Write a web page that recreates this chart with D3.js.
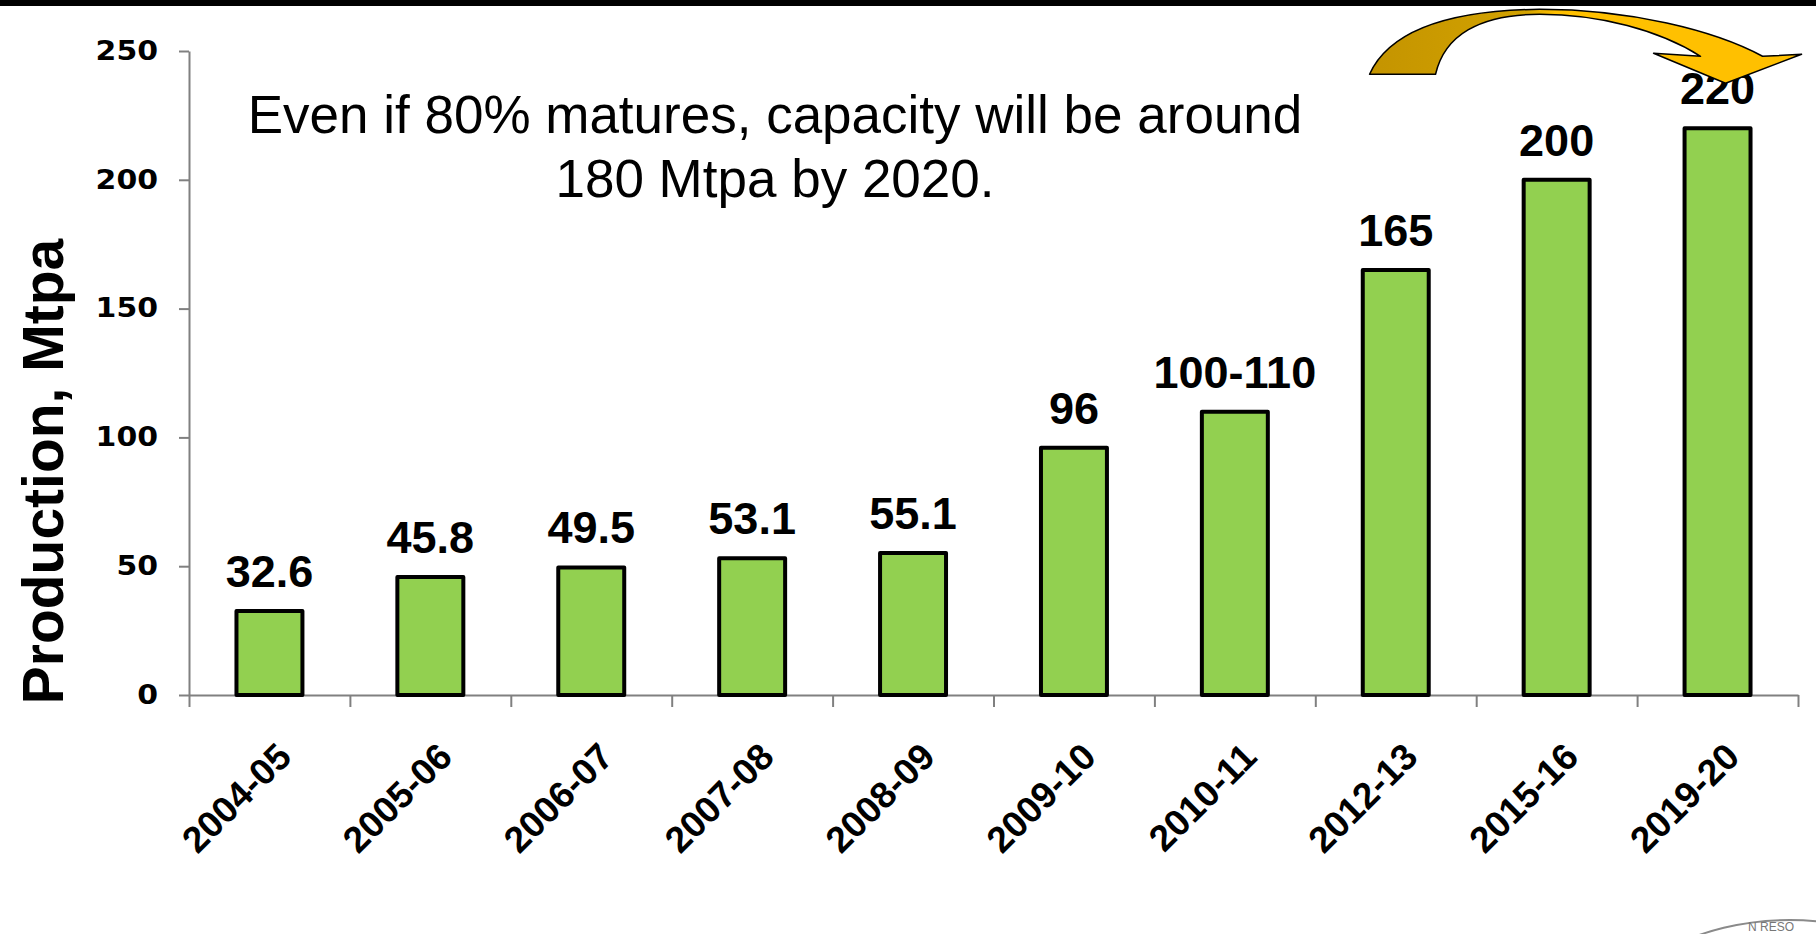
<!DOCTYPE html>
<html>
<head>
<meta charset="utf-8">
<script src="https://cdn.jsdelivr.net/npm/d3@7"></script>
<style>
  body { margin: 0; background: #fff; }
</style>
</head>
<body>
<div id="chart"></div>
<script>
// categories (years) and production values, Mtpa
var categories = ["2004-05", "2005-06", "2006-07", "2007-08", "2008-09",
                  "2009-10", "2010-11", "2012-13", "2015-16", "2019-20"];
var values = [32.6, 45.8, 49.5, 53.1, 55.1, 96, 110, 165, 200, 220];
var valueLabels = ["32.6", "45.8", "49.5", "53.1", "55.1", "96", "100-110", "165", "200", "220"];
var yTicks = [0, 50, 100, 150, 200, 250];
var noteLines = ["Even if 80% matures, capacity will be around", "180 Mtpa by 2020."];
var yTitle = "Production, Mtpa";

var chartInfo = { width: 1816, height: 934, divId: "#chart" };
var margin = { top: 51, right: 18, bottom: 239, left: 189 };

var w = chartInfo.width - margin.left - margin.right;
var h = chartInfo.height - margin.top - margin.bottom;

var svg = d3.select(chartInfo.divId).append("svg")
    .attr("width", chartInfo.width)
    .attr("height", chartInfo.height)
    .style("display", "block");

svg.append("rect")
    .attr("width", chartInfo.width)
    .attr("height", chartInfo.height)
    .attr("fill", "#fff");

var g = svg.append("g")
    .attr("transform", "translate(" + margin.left + "," + margin.top + ")");

// scales
var x = d3.scaleBand()
    .domain(categories)
    .range([0, w])
    .paddingInner(0.59)
    .paddingOuter(0.295);

var xEdges = d3.scaleLinear()
    .domain([0, categories.length])
    .range([0, w]);

var y = d3.scaleLinear()
    .domain([0, 250])
    .range([h, 0]);

var axisColor = "#808080";

// y axis (labels are a wide bold face, so stretch them a little)
var yAxis = g.append("g")
    .call(d3.axisLeft(y).tickValues(yTicks).tickSize(10).tickSizeOuter(0));
yAxis.selectAll("path, line").attr("stroke", axisColor).attr("stroke-width", 2);
yAxis.selectAll("text")
    .attr("x", 0)
    .attr("transform", "translate(-31,0) scale(1.15,1)")
    .attr("fill", "#000")
    .style("font-family", "'DejaVu Sans', sans-serif")
    .style("font-weight", "bold")
    .style("font-size", "26px");

// x axis: ticks between the categories
var xTickAxis = g.append("g")
    .attr("transform", "translate(0," + h + ")")
    .call(d3.axisBottom(xEdges).tickValues(d3.range(categories.length + 1))
        .tickFormat("").tickSize(12).tickSizeOuter(0));
xTickAxis.selectAll("path, line").attr("stroke", axisColor).attr("stroke-width", 2);

// x axis: rotated category labels
var xLabelAxis = g.append("g")
    .attr("transform", "translate(0," + h + ")")
    .call(d3.axisBottom(x).tickSize(0));
xLabelAxis.select(".domain").remove();
xLabelAxis.selectAll("text")
    .attr("x", 0)
    .attr("y", 0)
    .attr("dy", 0)
    .attr("text-anchor", "end")
    .attr("transform", "translate(24,64) rotate(-45)")
    .attr("fill", "#000")
    .style("font-family", "'Liberation Sans', Arial, sans-serif")
    .style("font-weight", "bold")
    .style("font-size", "37px");

// bars
g.selectAll(".bar")
    .data(values)
    .enter().append("rect")
    .attr("class", "bar")
    .attr("x", function(d, i) { return x(categories[i]); })
    .attr("width", x.bandwidth())
    .attr("y", function(d) { return y(d); })
    .attr("height", function(d) { return h - y(d); })
    .attr("fill", "#92D050")
    .attr("stroke", "#000")
    .attr("stroke-width", 4)
    .attr("stroke-linejoin", "round");

// value labels
g.selectAll(".value-label")
    .data(values)
    .enter().append("text")
    .attr("class", "value-label")
    .attr("x", function(d, i) { return x(categories[i]) + x.bandwidth() / 2; })
    .attr("y", function(d) { return y(d) - 24; })
    .attr("text-anchor", "middle")
    .style("font-family", "'Liberation Sans', Arial, sans-serif")
    .style("font-weight", "bold")
    .style("font-size", "45px")
    .text(function(d, i) { return valueLabels[i]; });

// y title
svg.append("text")
    .attr("transform", "translate(63," + (margin.top + h * 0.653) + ") rotate(-90)")
    .attr("text-anchor", "middle")
    .style("font-family", "'Liberation Sans', Arial, sans-serif")
    .style("font-weight", "bold")
    .style("font-size", "57px")
    .text(yTitle);

// note
svg.selectAll(".note")
    .data(noteLines)
    .enter().append("text")
    .attr("class", "note")
    .attr("x", 775)
    .attr("y", function(d, i) { return 133 + i * 64; })
    .attr("text-anchor", "middle")
    .style("font-family", "'Liberation Sans', Arial, sans-serif")
    .style("font-size", "53px")
    .text(String);

// curved arrow pointing at the last bar
var defs = svg.append("defs");
var grad = defs.append("linearGradient")
    .attr("id", "arrowFill")
    .attr("x1", 0).attr("x2", 1).attr("y1", 0).attr("y2", 0);
grad.append("stop").attr("offset", "0").attr("stop-color", "#C49400");
grad.append("stop").attr("offset", "0.36").attr("stop-color", "#D2A200");
grad.append("stop").attr("offset", "0.43").attr("stop-color", "#FFC000");
grad.append("stop").attr("offset", "1").attr("stop-color", "#FFC000");

var lastX = margin.left + x(categories[categories.length - 1]) + x.bandwidth() / 2;
var B = lastX - 348;
var T = margin.top + y(values[values.length - 1]) - 48;
var p = d3.path();
p.moveTo(B, T - 6);
p.bezierCurveTo(B + 20, T - 50, B + 80, T - 70, B + 170, T - 71);
p.bezierCurveTo(B + 260, T - 71, B + 345, T - 50, B + 393, T - 24);
p.lineTo(B + 432, T - 26);
p.lineTo(B + 356, T + 3);
p.lineTo(B + 284, T - 27);
p.lineTo(B + 331, T - 24);
p.bezierCurveTo(B + 290, T - 50, B + 230, T - 66, B + 170, T - 66);
p.bezierCurveTo(B + 110, T - 66, B + 75, T - 45, B + 66, T - 6);
p.closePath();
svg.append("path")
    .attr("d", p.toString())
    .attr("fill", "url(#arrowFill)")
    .attr("stroke", "#000")
    .attr("stroke-width", 1.5)
    .attr("stroke-linejoin", "round");

// black strip along the top of the slide, over the arrow
svg.append("rect")
    .attr("width", chartInfo.width)
    .attr("height", 6)
    .attr("fill", "#000");

// partial logo in the corner
svg.append("ellipse")
    .attr("cx", 1790)
    .attr("cy", 1030)
    .attr("rx", 180)
    .attr("ry", 110)
    .attr("fill", "none")
    .attr("stroke", "#8a8a8a")
    .attr("stroke-width", 2);
svg.append("text")
    .attr("x", 1748)
    .attr("y", 931)
    .attr("fill", "#777")
    .style("font-family", "'Liberation Sans', Arial, sans-serif")
    .style("font-size", "12px")
    .text("N RESO");
</script>
</body>
</html>
